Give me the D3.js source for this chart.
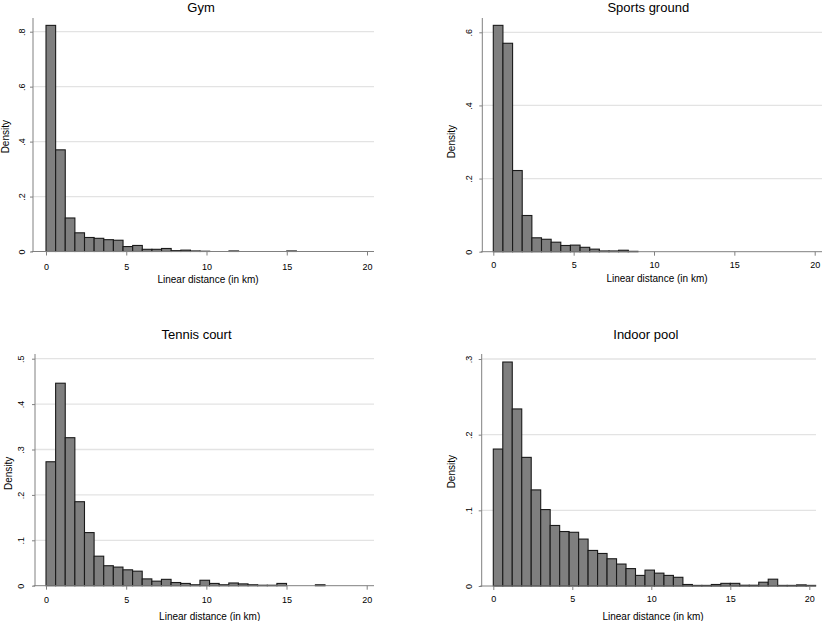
<!DOCTYPE html>
<html><head><meta charset="utf-8">
<script src="https://cdn.jsdelivr.net/npm/d3@7"></script>
<style>
body{margin:0;background:#fff}
text{font-family:"Liberation Sans",Arial,Helvetica,sans-serif;fill:#000}
</style>
</head><body>
<svg id="c" width="822" height="621"></svg>
<script>
// ---- data (histogram densities, bins of width 0.6 km starting at 0) ----
const binWidth = 0.6;
const titles = ["Gym", "Sports ground", "Tennis court", "Indoor pool"];
const gymDensity = [0.823, 0.370, 0.122, 0.068, 0.051, 0.048, 0.043, 0.041, 0.018, 0.022,
  0.008, 0.008, 0.011, 0.003, 0.005, 0.002, 0.001, 0, 0, 0.002, 0, 0, 0, 0, 0, 0.002];
const sportsDensity = [0.619, 0.570, 0.222, 0.099, 0.038, 0.034, 0.026, 0.017, 0.018, 0.012,
  0.007, 0.002, 0.002, 0.004, 0.001];
const tennisDensity = [0.273, 0.446, 0.326, 0.185, 0.117, 0.065, 0.044, 0.041, 0.035, 0.032,
  0.015, 0.010, 0.014, 0.007, 0.005, 0.002, 0.012, 0.005, 0.002, 0.006,
  0.004, 0.002, 0.001, 0.001, 0.005, 0, 0, 0, 0.002];
const poolDensity = [0.181, 0.296, 0.234, 0.170, 0.127, 0.101, 0.080, 0.072, 0.071, 0.062,
  0.047, 0.043, 0.036, 0.029, 0.023, 0.014, 0.021, 0.017, 0.014, 0.0115,
  0.002, 0.0008, 0.0008, 0.002, 0.0035, 0.0035, 0.001, 0.001, 0.005, 0.009,
  0.0008, 0.0008, 0.0015, 0.0008];
const xTicks = [0, 5, 10, 15, 20];
const gymYTicks = [0, 0.2, 0.4, 0.6, 0.8];
const sportsYTicks = [0, 0.2, 0.4, 0.6];
const tennisYTicks = [0, 0.1, 0.2, 0.3, 0.4, 0.5];
const poolYTicks = [0, 0.1, 0.2, 0.3];
const xTitle = "Linear distance (in km)";
const yTitle = "Density";

// ---- layout ----
const panels = [
  {title: titles[0], data: gymDensity, yTicks: gymYTicks,
   left: 33, x0: 46, x20: 367, right: 374, y0: 251.5, yTopTick: 0.8, yTopPx: 31.7, axisTop: 18,
   titleX: 201, titleY: 12, xTitleX: 208, xTitleY: 279.3, yTitleX: 5, yTitleY: 136.7, yLabX: 21.7, xLabY: 266.3},
  {title: titles[1], data: sportsDensity, yTicks: sportsYTicks,
   left: 482.3, x0: 493.3, x20: 814.7, right: 822, y0: 251.7, yTopTick: 0.6, yTopPx: 32.3, axisTop: 18,
   titleX: 648.3, titleY: 12, xTitleX: 657, xTitleY: 278.6, yTitleX: 451.7, yTitleY: 141.7, yLabX: 469.3, xLabY: 265.2},
  {title: titles[2], data: tennisDensity, yTicks: tennisYTicks,
   left: 35, x0: 46, x20: 366.7, right: 374, y0: 585.7, yTopTick: 0.5, yTopPx: 358.7, axisTop: 354,
   titleX: 196.5, titleY: 339.3, xTitleX: 209.7, xTitleY: 616, yTitleX: 8.3, yTitleY: 473.3, yLabX: 21, xLabY: 599.3},
  {title: titles[3], data: poolDensity, yTicks: poolYTicks,
   left: 481.7, x0: 493.3, x20: 809.3, right: 816, y0: 586, yTopTick: 0.3, yTopPx: 359, axisTop: 354,
   titleX: 645.8, titleY: 339.3, xTitleX: 653, xTitleY: 616, yTitleX: 451.7, yTitleY: 471.7, yLabX: 469.3, xLabY: 598.3}
];

const svg = d3.select("#c");
const fmt = v => v === 0 ? "0" : String(+v.toFixed(2)).replace(/^0/, "");

panels.forEach(p => {
  const x = d3.scaleLinear().domain([0, 20]).range([p.x0, p.x20]);
  const y = d3.scaleLinear().domain([0, p.yTopTick]).range([p.y0, p.yTopPx]);
  const g = svg.append("g");

  // gridlines
  g.selectAll("line.grid").data(p.yTicks.filter(t => t > 0)).join("line")
    .attr("class", "grid")
    .attr("x1", p.left).attr("x2", p.right)
    .attr("y1", d => y(d)).attr("y2", d => y(d))
    .attr("stroke", "#e3e3e3").attr("stroke-width", 1.3);

  // bars
  const bins = p.data.map((d, i) => ({x0: i * binWidth, x1: (i + 1) * binWidth, v: d}))
    .filter(b => b.v > 0);
  g.selectAll("rect.bar").data(bins).join("rect")
    .attr("class", "bar")
    .attr("x", b => x(b.x0)).attr("width", b => x(b.x1) - x(b.x0))
    .attr("y", b => y(b.v)).attr("height", b => Math.max(0.01, y(0) - y(b.v)))
    .attr("fill", "#7f7f7f").attr("stroke", "#1a1a1a").attr("stroke-width", 1.1);

  // x axis
  const xa = g.append("g").attr("transform", `translate(0,${p.y0})`)
    .call(d3.axisBottom(x).tickValues(xTicks).tickSize(4).tickSizeOuter(0).tickFormat(d3.format("d")));
  xa.select(".domain").attr("d", `M${p.left - 1.5},0H${p.right}`).attr("stroke", "#808080").attr("stroke-width", 1);
  xa.selectAll(".tick line").attr("stroke", "#808080");
  xa.selectAll(".tick text").attr("y", 0).attr("dy", 0)
    .attr("transform", `translate(0,${p.xLabY - p.y0 + 3.2})`)
    .style("font-size", "9px").style("font-family", '"Liberation Sans",Arial,sans-serif').attr("fill", "#000");

  // y axis
  const ya = g.append("g").attr("transform", `translate(${p.left},0)`)
    .call(d3.axisLeft(y).tickValues(p.yTicks).tickSize(3).tickSizeOuter(0).tickFormat(fmt));
  ya.select(".domain").attr("d", `M0,${p.axisTop}V${p.y0 + 0.5}`).attr("stroke", "#808080").attr("stroke-width", 1);
  ya.selectAll(".tick line").attr("stroke", "#808080");
  ya.selectAll(".tick text").attr("x", 0).attr("dy", "0.35em").attr("text-anchor", "middle")
    .attr("transform", `translate(${p.yLabX - p.left},0) rotate(-90)`)
    .style("font-size", "9px").style("font-family", '"Liberation Sans",Arial,sans-serif').attr("fill", "#000");

  // titles
  g.append("text").attr("x", p.titleX).attr("y", p.titleY).attr("text-anchor", "middle")
    .style("font-size", "13px").text(p.title);
  g.append("text").attr("x", p.xTitleX).attr("y", p.xTitleY + 3.6).attr("text-anchor", "middle")
    .style("font-size", "10px").text(xTitle);
  g.append("text").attr("text-anchor", "middle").attr("dy", "0.35em")
    .attr("transform", `translate(${p.yTitleX},${p.yTitleY}) rotate(-90)`)
    .style("font-size", "10px").text(yTitle);
});
</script>
</body></html>
